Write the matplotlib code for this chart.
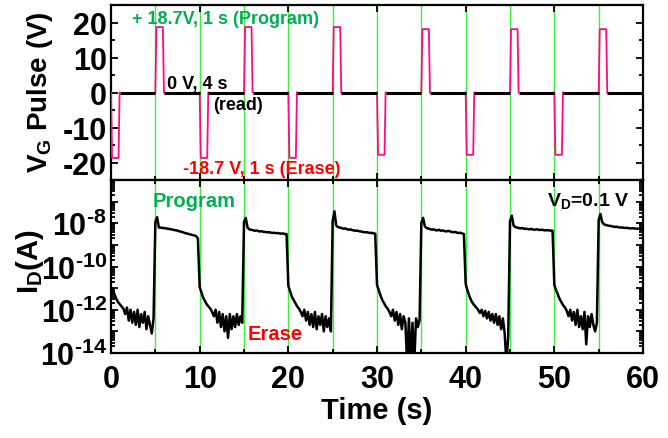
import numpy as np
import matplotlib
matplotlib.use("Agg")
import matplotlib.pyplot as plt
from matplotlib.ticker import MultipleLocator, LogLocator, FuncFormatter, NullFormatter

# ---------------- data ----------------
# gate pulse train
program_start = [5, 15, 25, 35, 45, 55]
program_volt = [18.7, 18.7, 18.7, 18.1, 18.1, 18.1]
erase_start = [0, 10, 20, 30, 40, 50]
erase_volt = [-18.7, -18.7, -18.7, -17.8, -17.8, -17.8]
t_end = 60

# drain current, log10(I_D / A), sampled every 0.2 s
sample_step = 0.2
erase_logI = [
    [-10.95, -11.1, -11.3, -11.5, -11.65, -11.75, -11.85, -11.95, -12.2, -11.9,
     -12.5, -12.0, -12.6, -12.1, -12.7, -12.0, -12.8, -12.2, -12.6, -12.1,
     -12.9, -12.3, -12.7, -13.1, -12.4],
    [-10.95, -11.2, -11.45, -11.6, -11.75, -11.85, -11.95, -12.1, -12.3, -12.0,
     -12.6, -12.1, -12.8, -12.2, -13.0, -12.3, -13.3, -12.2, -12.9, -12.3,
     -12.8, -12.2, -12.7, -12.3, -12.6],
    [-10.9, -11.15, -11.4, -11.55, -11.7, -11.85, -11.95, -12.1, -12.3, -12.0,
     -12.5, -12.1, -12.7, -12.2, -12.8, -12.1, -12.9, -12.3, -12.7, -12.2,
     -13.0, -12.3, -12.8, -12.4, -13.0],
    [-10.85, -11.1, -11.35, -11.55, -11.7, -11.85, -11.95, -12.1, -12.3, -12.0,
     -12.5, -12.1, -12.7, -12.2, -12.9, -12.3, -12.6, -14.5, -12.4, -14.5,
     -12.6, -14.5, -12.4, -12.8, -12.5],
    [-10.8, -11.1, -11.35, -11.55, -11.7, -11.8, -11.9, -12.0, -12.15, -12.0,
     -12.3, -12.05, -12.4, -12.1, -12.5, -12.2, -12.6, -12.2, -12.7, -12.3,
     -12.9, -12.4, -13.1, -14.5, -13.2],
    [-10.85, -11.1, -11.3, -11.5, -11.65, -11.8, -11.9, -12.05, -12.3, -12.0,
     -12.5, -12.1, -12.7, -12.0, -12.8, -12.3, -12.9, -12.1, -13.6, -12.3,
     -12.8, -12.2, -12.7, -13.0, -12.6],
]
program_logI = [
    [-7.95, -7.72, -8.2, -8.2, -8.22, -8.22, -8.24, -8.25, -8.27, -8.28,
     -8.3, -8.32, -8.33, -8.36, -8.38, -8.4, -8.43, -8.46, -8.48, -8.5,
     -8.52, -8.55, -8.56, -8.6, -8.7],
    [-7.95, -7.75, -8.2, -8.28, -8.3, -8.32, -8.35, -8.33, -8.36, -8.38,
     -8.37, -8.4, -8.4, -8.42, -8.41, -8.43, -8.45, -8.44, -8.46, -8.45,
     -8.47, -8.48, -8.47, -8.5, -8.5],
    [-7.9, -7.45, -8.1, -8.18, -8.2, -8.22, -8.25, -8.24, -8.27, -8.3,
     -8.28, -8.32, -8.33, -8.35, -8.34, -8.37, -8.38, -8.4, -8.42, -8.41,
     -8.43, -8.45, -8.44, -8.47, -8.48],
    [-8.0, -7.75, -8.15, -8.22, -8.25, -8.27, -8.3, -8.28, -8.32, -8.33,
     -8.3, -8.35, -8.33, -8.36, -8.38, -8.35, -8.37, -8.4, -8.42, -8.4,
     -8.43, -8.45, -8.44, -8.47, -8.5],
    [-7.9, -7.65, -8.1, -8.18, -8.2, -8.22, -8.24, -8.22, -8.26, -8.25,
     -8.27, -8.28, -8.26, -8.29, -8.3, -8.28, -8.3, -8.31, -8.3, -8.32,
     -8.33, -8.32, -8.33, -8.34, -8.35],
    [-7.85, -7.58, -7.95, -8.05, -8.08, -8.1, -8.12, -8.13, -8.15, -8.17,
     -8.16, -8.18, -8.2, -8.19, -8.21, -8.22, -8.21, -8.23, -8.24, -8.23,
     -8.24, -8.25, -8.25, -8.26, -8.26],
]
final_logI = -8.27

# ---------------- style ----------------
plt.rcParams.update({
    "font.family": "Liberation Sans",
    "font.weight": "bold",
    "axes.unicode_minus": False,
    "mathtext.fontset": "custom",
    "mathtext.rm": "Liberation Sans:bold",
    "mathtext.it": "Liberation Sans:bold",
    "mathtext.bf": "Liberation Sans:bold",
    "mathtext.default": "rm",
})

PINK = "#ff0a80"
LINE_GREEN = "#3cf03c"
TXT_GREEN = "#00b050"
TXT_RED = "#ff0000"
TICK_FS = 22

W, H = 668, 439
fig = plt.figure(figsize=(W / 100, H / 100), dpi=100)

def frac_rect(x0, y0, x1, y1):
    return [x0 / W, 1 - y1 / H, (x1 - x0) / W, (y1 - y0) / H]

def px_text(x, y, s, **kw):
    # place text by pixel position measured from the top-left corner
    return fig.text(x / W, 1 - y / H, s, **kw)

ax1 = fig.add_axes(frac_rect(111, 6, 643, 181))
ax2 = fig.add_axes(frac_rect(111, 181, 643, 354))

# ---------------- top panel: gate pulses ----------------
ramp = 0.12
width = 0.97
pulses = sorted(zip(program_start + erase_start, program_volt + erase_volt))
for s, v in pulses:
    ax1.plot([s, s + ramp, s + width - ramp, s + width], [0, v, v, 0],
             color=PINK, lw=1.3, zorder=3)
ends = [s + width for s, _ in pulses]
starts = [s for s, _ in pulses][1:] + [t_end]
for a, b in zip(ends, starts):
    ax1.plot([a, b], [0, 0], color="black", lw=2.2, zorder=4, solid_capstyle="butt")

ax1.set_xlim(0, t_end)
ax1.set_ylim(-25, 25)
ax1.yaxis.set_major_locator(MultipleLocator(10))
ax1.yaxis.set_minor_locator(MultipleLocator(5))
ax1.xaxis.set_major_locator(MultipleLocator(10))
ax1.xaxis.set_minor_locator(MultipleLocator(5))
ax1.tick_params(axis="x", labelbottom=False)

# ---------------- bottom panel: drain current ----------------
logI = []
for e_seg, p_seg in zip(erase_logI, program_logI):
    logI.extend(e_seg)
    logI.extend(p_seg)
logI.append(final_logI)
logI = np.array(logI)
t = np.arange(len(logI)) * sample_step
ax2.plot(t, 10.0 ** logI, color="black", lw=1.8, zorder=3)

ax2.set_yscale("log")
ax2.set_xlim(0, t_end)
ax2.set_ylim(1e-14, 1e-6)
ax2.yaxis.set_major_locator(LogLocator(base=10, numticks=20))
ax2.yaxis.set_minor_locator(LogLocator(base=10, subs=np.arange(2, 10), numticks=20))
ax2.yaxis.set_minor_formatter(NullFormatter())

def dec_label(v, pos):
    e = int(round(np.log10(v)))
    if e % 2 == 0 and e <= -8:
        return r"$10^{\text{%d}}$" % e
    return ""

ax2.yaxis.set_major_formatter(FuncFormatter(dec_label))
ax2.xaxis.set_major_locator(MultipleLocator(10))
ax2.xaxis.set_minor_locator(MultipleLocator(5))

# green markers at every pulse edge
for tm in sorted(program_start + erase_start[1:]):
    for ax in (ax1, ax2):
        ax.axvline(tm, color=LINE_GREEN, lw=1.0, zorder=1)

for ax in (ax1, ax2):
    for sp in ax.spines.values():
        sp.set_linewidth(1.6)
    ax.tick_params(which="both", direction="in", top=True, right=True,
                   labelsize=TICK_FS, width=1.3, pad=3)
    ax.tick_params(which="major", length=5)
    ax.tick_params(which="minor", length=3)
ax2.tick_params(axis="x", which="both", pad=8)
ax1.tick_params(axis="x", which="minor", top=False)
for lab in ax1.get_yticklabels() + ax2.get_yticklabels() + ax2.get_xticklabels():
    lab.set_fontweight("bold")

# annotations
px_text(132, 20, "+ 18.7V, 1 s (Program)", color=TXT_GREEN,
        fontsize=13, fontweight="bold", va="center", ha="left")
px_text(167, 85, "0 V, 4 s", color="black",
        fontsize=13, fontweight="bold", va="center", ha="left")
px_text(213, 106, "(read)", color="black",
        fontsize=13, fontweight="bold", va="center", ha="left")
px_text(183, 170, "-18.7 V, 1 s (Erase)", color=TXT_RED,
        fontsize=13, fontweight="bold", va="center", ha="left")
px_text(153, 202, "Program", color=TXT_GREEN,
        fontsize=14.5, fontweight="bold", va="center", ha="left")
px_text(248, 335, "Erase", color=TXT_RED,
        fontsize=14.5, fontweight="bold", va="center", ha="left")
px_text(547, 201, r"$V_D$=0.1 V", color="black",
        fontsize=14, fontweight="bold", va="center", ha="left")

# axis titles
px_text(40, 92, r"$V_G$ Pulse (V)", rotation=90, ha="center", va="center",
        fontsize=20, fontweight="bold")
px_text(30, 262, r"$I_D$(A)", rotation=90, ha="center", va="center",
        fontsize=21, fontweight="bold")
px_text(377, 411, "Time (s)", ha="center", va="center",
        fontsize=21, fontweight="bold")

fig.savefig("out.png", dpi=100)
